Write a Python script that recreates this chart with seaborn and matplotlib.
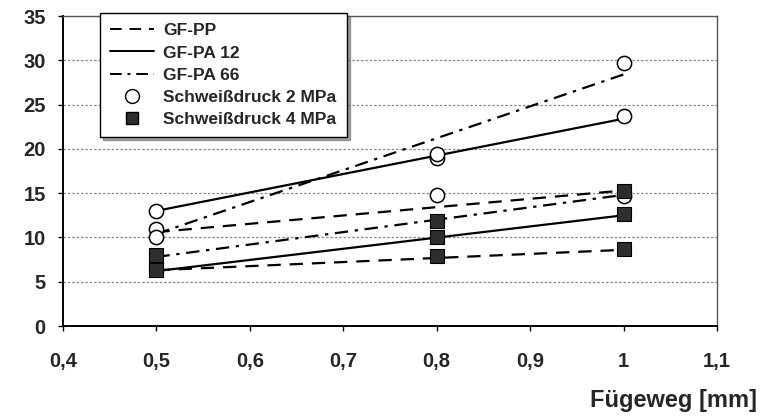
import matplotlib
matplotlib.use("Agg")
import matplotlib.pyplot as plt
from matplotlib.lines import Line2D
from matplotlib.ticker import FixedLocator, FuncFormatter
import seaborn as sns
import pandas as pd
import numpy as np

# ---- data ----
materials = ["GF-PP", "GF-PA 12", "GF-PA 66"]
x_points = [0.5, 0.8, 1.0]

# measured points, Schweißdruck 2 MPa
p2_pp = [11.0, 14.8, 14.7]
p2_pa12 = [13.0, 19.0, 23.7]
p2_pa66 = [10.0, 19.4, 29.7]
# measured points, Schweißdruck 4 MPa
p4_pp = [6.4, 7.9, 8.7]
p4_pa12 = [6.3, 10.0, 12.6]
p4_pa66 = [8.0, 11.9, 15.2]

# trend lines (values at x = 0.5 and x = 1.0)
x_trend = [0.5, 1.0]
t2_pp = [10.6, 15.3]
t2_pa12 = [13.0, 23.4]
t2_pa66 = [10.4, 28.4]
t4_pp = [6.3, 8.6]
t4_pa12 = [6.2, 12.5]
t4_pa66 = [7.8, 14.8]

x_ticks = [0.4, 0.5, 0.6, 0.7, 0.8, 0.9, 1.0, 1.1]
y_ticks = [0, 5, 10, 15, 20, 25, 30, 35]
legend_labels = ["GF-PP", "GF-PA 12", "GF-PA 66", "Schweißdruck 2 MPa", "Schweißdruck 4 MPa"]
x_label = "Fügeweg [mm]"

# ---- styling ----
sns.set_theme(style="white")
plt.rcParams["font.family"] = ["Liberation Sans", "DejaVu Sans"]
plt.rcParams["font.weight"] = "bold"

styles = {
    "GF-PP": (0, (6, 4)),
    "GF-PA 12": "-",
    "GF-PA 66": (0, (6, 3, 1.5, 3)),
}

fig = plt.figure(figsize=(7.6, 4.18), dpi=100)
ax = fig.add_axes([63 / 760, 1 - 326 / 418, (717 - 63) / 760, (326 - 16) / 418])

# trend lines
trend_sets = [
    ("GF-PP", t2_pp), ("GF-PA 12", t2_pa12), ("GF-PA 66", t2_pa66),
    ("GF-PP", t4_pp), ("GF-PA 12", t4_pa12), ("GF-PA 66", t4_pa66),
]
for mat, vals in trend_sets:
    sns.lineplot(x=x_trend, y=vals, ax=ax, color="black", linewidth=1.6,
                 linestyle=styles[mat], zorder=3)

# points
df2 = pd.DataFrame({"x": x_points * 3, "y": p2_pp + p2_pa12 + p2_pa66})
df4 = pd.DataFrame({"x": x_points * 3, "y": p4_pp + p4_pa12 + p4_pa66})
sns.scatterplot(data=df2, x="x", y="y", ax=ax, marker="o", s=105,
                facecolor="white", edgecolor="black", linewidth=1.1, zorder=4)
sns.scatterplot(data=df4, x="x", y="y", ax=ax, marker="s", s=95,
                facecolor="#2e2e2e", edgecolor="black", linewidth=0.8, zorder=4)

ax.set_xlim(0.4, 1.1)
ax.set_ylim(0, 35)
ax.xaxis.set_major_locator(FixedLocator(x_ticks))
ax.yaxis.set_major_locator(FixedLocator(y_ticks))
ax.xaxis.set_major_formatter(FuncFormatter(lambda v, p: f"{v:g}".replace(".", ",")))
ax.yaxis.set_major_formatter(FuncFormatter(lambda v, p: f"{v:g}"))
ax.tick_params(axis="both", labelsize=14.5, length=3.5, width=1, color="black",
               direction="out", bottom=True, left=True)
ax.tick_params(axis="x", pad=15)
ax.tick_params(axis="y", pad=9)
for lab in ax.get_xticklabels() + ax.get_yticklabels():
    lab.set_fontweight("bold")
ax.set_xlabel("")
ax.set_ylabel("")

ax.yaxis.grid(True, color="#8a8a8a", linestyle=(0, (2, 1.5)), linewidth=0.9)
ax.xaxis.grid(False)
for side in ["left", "bottom"]:
    ax.spines[side].set_color("black")
    ax.spines[side].set_linewidth(1.4)
for side in ["top", "right"]:
    ax.spines[side].set_visible(True)
    ax.spines[side].set_color("#555555")
    ax.spines[side].set_linewidth(1.0)

# legend
handles = [
    Line2D([0], [0], color="black", lw=1.4, linestyle=styles["GF-PP"]),
    Line2D([0], [0], color="black", lw=1.4, linestyle=styles["GF-PA 12"]),
    Line2D([0], [0], color="black", lw=1.4, linestyle=styles["GF-PA 66"]),
    Line2D([0], [0], color="none", marker="o", markersize=10,
           markerfacecolor="white", markeredgecolor="black"),
    Line2D([0], [0], color="none", marker="s", markersize=9,
           markerfacecolor="#2e2e2e", markeredgecolor="black"),
]
leg = ax.legend(handles, legend_labels, loc="upper left",
                bbox_to_anchor=((100 - 63) / 654, 1.01), frameon=True,
                fancybox=False, shadow=True, edgecolor="black",
                prop={"weight": "bold", "size": 12.5}, handlelength=2.5,
                handletextpad=0.55, labelspacing=0.4, borderpad=0.6,
                borderaxespad=0.0, framealpha=1)
leg.get_frame().set_linewidth(1.0)
leg.set_zorder(10)

fig.text(757 / 760, 1 - 400 / 418, x_label, ha="right", va="center",
         fontsize=17, fontweight="bold")

fig.savefig("out.png", dpi=100)
